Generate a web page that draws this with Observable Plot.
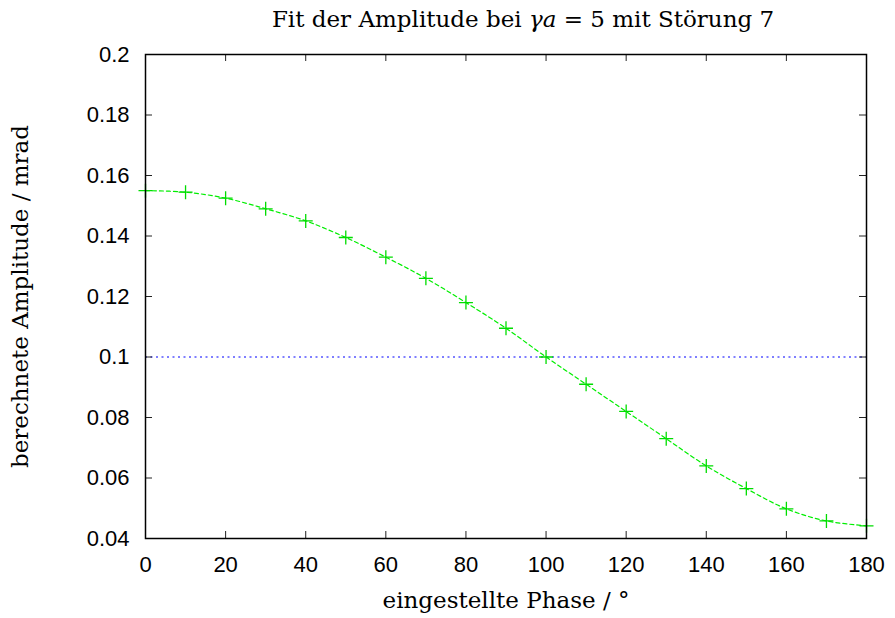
<!DOCTYPE html>
<html>
<head>
<meta charset="utf-8">
<script src="https://cdn.jsdelivr.net/npm/d3@7"></script>
<script src="https://cdn.jsdelivr.net/npm/@observablehq/plot@0.6"></script>
<style>
  body { margin: 0; background: white; }
  #title { height: 40px; box-sizing: border-box; padding-left: 151px; padding-top: 6px; text-align: center;
    font-family: "DejaVu Serif", "Liberation Serif", serif; font-size: 23px; color: #000; line-height: 26px; white-space: nowrap; }
</style>
</head>
<body>
<div id="wrap" style="width:895px">
  <div id="title">Fit der Amplitude bei <i>γa</i> = 5 mit Störung 7</div>
  <div id="chart"></div>
</div>
<script>
// Data
const phase = [0, 10, 20, 30, 40, 50, 60, 70, 80, 90, 100, 110, 120, 130, 140, 150, 160, 170, 180];
const amplitude = [0.155, 0.1545, 0.1525, 0.149, 0.145, 0.1395, 0.133, 0.126, 0.118, 0.1095, 0.100,
                   0.091, 0.082, 0.073, 0.064, 0.0565, 0.0498, 0.0458, 0.0442];
const reference = [0.1];
const xTicks = [0, 20, 40, 60, 80, 100, 120, 140, 160, 180];
const xLabels = ["0", "20", "40", "60", "80", "100", "120", "140", "160", "180"];
const yTicks = [0.04, 0.06, 0.08, 0.1, 0.12, 0.14, 0.16, 0.18, 0.2];
const yLabels = ["0.04", "0.06", "0.08", "0.1", "0.12", "0.14", "0.16", "0.18", "0.2"];
const xTitle = "eingestellte Phase / °";
const yTitle = "berechnete Amplitude / mrad";

const points = phase.map((p, i) => ({phase: p, amplitude: amplitude[i]}));

const W = 895, H = 578;
const mL = 145, mR = 29, mT = 14, mB = 80;
const fw = W - mL - mR, fh = H - mT - mB;
const tick = 7;

const crossSymbol = {
  draw(ctx, size) {
    const r = Math.sqrt(size / Math.PI);
    ctx.moveTo(-r, 0); ctx.lineTo(r, 0);
    ctx.moveTo(0, -r); ctx.lineTo(0, r);
  }
};

const sans = "Liberation Sans, Arial, Helvetica, sans-serif";
const serif = "DejaVu Serif, Liberation Serif, serif";

const chart = Plot.plot({
  width: W, height: H,
  marginLeft: mL, marginRight: mR, marginTop: mT, marginBottom: mB,
  style: {background: "white", color: "black", overflow: "visible"},
  x: {domain: [0, 180], axis: null},
  y: {domain: [0.04, 0.2], axis: null},
  marks: [
    Plot.ruleY(reference, {stroke: "#0000ff", strokeWidth: 1.2, strokeDasharray: "2,3.5"}),
    Plot.line(points, {x: "phase", y: "amplitude", stroke: "#00ee00", strokeWidth: 1.2, strokeDasharray: "4,3", curve: "catmull-rom"}),
    Plot.dot(points, {x: "phase", y: "amplitude", symbol: crossSymbol, r: 7, stroke: "#00dd00", strokeWidth: 1.3, fill: "none"}),
    // inward ticks on all four sides
    Plot.tickY(yTicks, {y: d => d, insetRight: fw - tick, stroke: "#222", strokeWidth: 1}),
    Plot.tickY(yTicks, {y: d => d, insetLeft: fw - tick, stroke: "#222", strokeWidth: 1}),
    Plot.tickX(xTicks, {x: d => d, insetTop: fh - tick, stroke: "#222", strokeWidth: 1}),
    Plot.tickX(xTicks, {x: d => d, insetBottom: fh - tick, stroke: "#222", strokeWidth: 1}),
    Plot.frame({stroke: "black", strokeWidth: 1.5}),
    Plot.axisY(yTicks, {anchor: "left", tickSize: 0, tickPadding: 16, label: null,
      tickFormat: d => yLabels[yTicks.indexOf(d)], fontSize: 22, fontFamily: sans}),
    Plot.axisX(xTicks, {anchor: "bottom", tickSize: 0, tickPadding: 18, label: null,
      tickFormat: d => xLabels[xTicks.indexOf(d)], fontSize: 22, fontFamily: sans}),
    Plot.text([xTitle], {text: d => d, frameAnchor: "bottom", lineAnchor: "middle", textAnchor: "middle", dy: 62, fontSize: 23, fontFamily: serif}),
    Plot.text([yTitle], {text: d => d, frameAnchor: "left", lineAnchor: "middle", textAnchor: "middle", rotate: -90, dx: -125, fontSize: 23, fontFamily: serif})
  ]
});
document.getElementById("chart").appendChild(chart);
</script>
</body>
</html>
